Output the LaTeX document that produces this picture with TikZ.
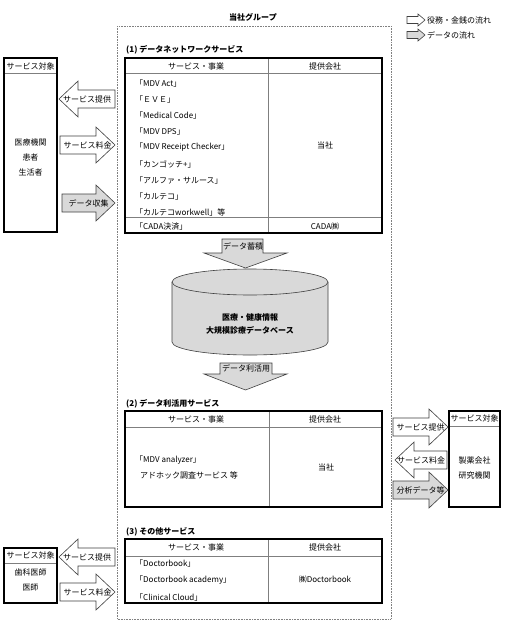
\documentclass[tikz,border=0pt]{standalone}
\usepackage{fontspec}
\setmainfont{Noto Sans CJK JP}
\definecolor{gfill}{HTML}{D9D9D9}
\definecolor{edgec}{HTML}{404040}
\definecolor{innerc}{HTML}{7F7F7F}
\tikzset{
  txt/.style={inner sep=0pt, font=\fontsize{8}{10}\selectfont},
  txtl/.style={txt, anchor=west},
  bold/.style={txt, font=\fontsize{8}{12.5}\selectfont\bfseries, align=center},
  outer/.style={draw=black, line width=1.2pt},
  inner/.style={draw=innerc, line width=0.6pt},
  arr/.style={draw=edgec, line width=0.6pt, line join=miter},
  grouprect/.style={draw=gray, line width=0.7pt, dash pattern=on 0.8pt off 0.8pt},
}
% #1 fill, #2 tail x, #3 tip x, #4 y, #5 name, #6 text
\newcommand{\flowarrow}[6]{%
  \pgfmathsetmacro{\hb}{#3-19*sign(#3-#2)}%
  \draw[arr, fill=#1] (#2,#4-9) -- (\hb,#4-9) -- (\hb,#4-18) -- (#3,#4) -- (\hb,#4+18) -- (\hb,#4+9) -- (#2,#4+9) -- cycle;
  \node[txt] (#5) at ({(#2+#3)/2},#4) {#6};
}
% #1 fill, #2 tail x, #3 tip x, #4 y
\newcommand{\legendarrow}[4]{%
  \pgfmathsetmacro{\hb}{#3-7}%
  \draw[arr, fill=#1] (#2,#4-3.5) -- (\hb,#4-3.5) -- (\hb,#4-6) -- (#3,#4) -- (\hb,#4+6) -- (\hb,#4+3.5) -- (#2,#4+3.5) -- cycle;
}
\begin{document}
\begin{tikzpicture}[x=1pt, y=-1pt]
\useasboundingbox (0,0) rectangle (506,624);
\fill[white] (0,0) rectangle (506,624);

% group box
\draw[grouprect] (117,26) rectangle (391,619);
\node[bold] (grp) at (253,17) {当社グループ};

% legend
\legendarrow{white}{407}{425}{20}
\node[txtl] (leg1) at (427,20) {役務・金銭の流れ};
\legendarrow{gfill}{407}{425}{35}
\node[txtl] (leg2) at (427,35) {データの流れ};

% ---------- Table 1 ----------
\node[bold, anchor=west] (t1lbl) at (126,50) {(1) データネットワークサービス};
\draw[inner] (125,73) -- (382,73);
\draw[inner] (268,58) -- (268,233);
\draw[inner] (125,217) -- (382,217);
\draw[outer] (125,58) rectangle (382,233);
\node[txt] (t1h1) at (196,66) {サービス・事業};
\node[txt] (t1h2) at (325,66) {提供会社};
\node[txtl] (r1) at (135,83) {「MDV Act」};
\node[txtl] (r2) at (135,99) {「ＥＶＥ」};
\node[txtl] (r3) at (135,115) {「Medical Code」};
\node[txtl] (r4) at (135,131) {「MDV DPS」};
\node[txtl] (r5) at (135,147) {「MDV Receipt Checker」};
\node[txtl] (r6) at (135,164) {「カンゴッチ+」};
\node[txtl] (r7) at (135,180) {「アルファ・サルース」};
\node[txtl] (r8) at (135,196) {「カルテコ」};
\node[txtl] (r9) at (135,212) {「カルテコworkwell」等};
\node[txtl] (r10) at (135,226) {「CADA決済」};
\node[txt] (c1) at (325,145) {当社};
\node[txt] (c2) at (325,226) {CADA㈱};

% left box 1
\draw[inner] (4,73) -- (57,73);
\draw[outer] (4,58) rectangle (57,232);
\node[txt] (lb1h) at (30.5,66) {サービス対象};
\node[txt, align=center, font=\fontsize{8}{15}\selectfont] (lb1) at (30.5,157) {医療機関\\患者\\生活者};

\flowarrow{white}{115}{59}{99}{la1}{サービス提供}
\flowarrow{white}{60}{115}{145}{la2}{サービス料金}
\flowarrow{gfill}{62}{115}{203}{la3}{データ収集}

% down arrow 1
\draw[arr, fill=gfill] (222,239) -- (263,239) -- (263,253) -- (287,253) -- (245.5,268) -- (204,253) -- (222,253) -- cycle;
\node[txt] (da1) at (243,246) {データ蓄積};

% cylinder
\fill[gfill] (172,282) -- (172,342) arc[start angle=180, end angle=0, x radius=78, y radius=13] -- (328,282) -- cycle;
\draw[arr] (172,282) -- (172,342) arc[start angle=180, end angle=0, x radius=78, y radius=13] -- (328,282);
\draw[arr, fill=gfill] (250,282) ellipse [x radius=78, y radius=13];
\node[bold] (db) at (250,324) {医療・健康情報\\大規模診療データベース};

% down arrow 2
\draw[arr, fill=gfill] (220,363) -- (272,363) -- (272,374) -- (287,374) -- (245.5,390) -- (204,374) -- (220,374) -- cycle;
\node[txt] (da2) at (246,368.5) {データ利活用};

% ---------- Table 2 ----------
\node[bold, anchor=west] (t2lbl) at (126,404) {(2) データ利活用サービス};
\draw[inner] (125,427) -- (382,427);
\draw[inner] (269,411) -- (269,507);
\draw[outer] (125,411) rectangle (382,507);
\node[txt] (t2h1) at (196,419) {サービス・事業};
\node[txt] (t2h2) at (325,419) {提供会社};
\node[txtl] (s1) at (135,460) {「MDV analyzer」};
\node[txtl] (s2) at (140,475) {アドホック調査サービス 等};
\node[txt] (s3) at (326,467) {当社};

% right box
\draw[inner] (449,426) -- (500,426);
\draw[outer] (449,411) rectangle (500,507);
\node[txt] (rbh) at (474.5,418.5) {サービス対象};
\node[txt, align=center, font=\fontsize{8}{15}\selectfont] (rb) at (474.5,467.5) {製薬会社\\研究機関};

\flowarrow{white}{393}{448}{427}{ra1}{サービス提供}
\flowarrow{white}{447}{395}{460}{ra2}{サービス料金}
\flowarrow{gfill}{393}{448}{490}{ra3}{分析データ等}

% ---------- Table 3 ----------
\node[bold, anchor=west] (t3lbl) at (126,532) {(3) その他サービス};
\draw[inner] (125,556) -- (382,556);
\draw[inner] (268,539) -- (268,603);
\draw[outer] (125,539) rectangle (382,603);
\node[txt] (t3h1) at (196,547.5) {サービス・事業};
\node[txt] (t3h2) at (325,547.5) {提供会社};
\node[txtl] (u1) at (135,563) {「Doctorbook」};
\node[txtl] (u2) at (135,580) {「Doctorbook academy」};
\node[txtl] (u3) at (135,597) {「Clinical Cloud」};
\node[txt] (u4) at (325,579) {㈱Doctorbook};

% left box 3
\draw[inner] (4,563) -- (57,563);
\draw[outer] (4,548) rectangle (57,603);
\node[txt] (lb3h) at (30.5,555.5) {サービス対象};
\node[txt, align=center, font=\fontsize{8}{15}\selectfont] (lb3) at (30.5,579.5) {歯科医師\\医師};

\flowarrow{white}{115}{59}{557}{la4}{サービス提供}
\flowarrow{white}{60}{115}{592}{la5}{サービス料金}
\end{tikzpicture}
\end{document}
